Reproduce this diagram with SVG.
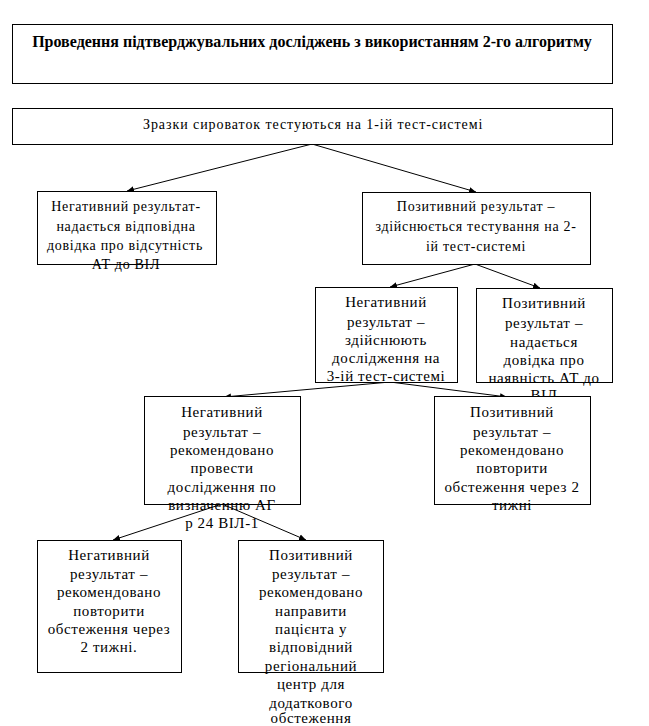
<svg xmlns="http://www.w3.org/2000/svg" width="649" height="726" viewBox="0 0 649 726">
<style>
rect{fill:#fff;stroke:#000;stroke-width:1}
text{font-family:"Liberation Serif","Times New Roman",serif;fill:#000;text-anchor:middle}
.t{font-size:16px;font-weight:bold}
.s{font-size:14px;letter-spacing:0.7px}
.m{font-size:15px;letter-spacing:0.6px}
.c line{stroke:#000;stroke-width:1;marker-end:url(#ah)}
</style>
<defs>
<marker id="ah" markerUnits="userSpaceOnUse" markerWidth="8" markerHeight="8" viewBox="0 0 8 8" refX="7" refY="4" orient="auto">
<path d="M0,1 L7,4 L0,7 Z" fill="#000"/>
</marker>
</defs>
<rect width="649" height="726" style="stroke:none"/>
<g id="connectors" class="c">
<line x1="312" y1="144" x2="127" y2="191"/>
<line x1="312" y1="144" x2="476" y2="192"/>
<line x1="475" y1="264" x2="390" y2="287"/>
<line x1="475" y1="264" x2="540" y2="288"/>
<line x1="390" y1="382" x2="224" y2="397"/>
<line x1="390" y1="382" x2="507" y2="397"/>
<line x1="222" y1="504" x2="113" y2="540"/>
<line x1="222" y1="504" x2="306" y2="540"/>
</g>
<g id="title">
<rect x="12.5" y="24.5" width="600" height="59"/>
<text class="t" x="312" y="47">Проведення підтверджувальних досліджень з використанням 2-го алгоритму</text>
</g>
<g id="start">
<rect x="12.5" y="108.5" width="600" height="36"/>
<text class="s" x="313" y="129" textLength="340" lengthAdjust="spacing">Зразки сироваток тестуються на 1-ій тест-системі</text>
</g>
<g id="neg1">
<rect x="37.5" y="191.5" width="179" height="73"/>
<text class="s" x="126" y="211">Негативний результат-</text>
<text class="s" x="126" y="231">надається відповідна</text>
<text class="s" x="125" y="250">довідка про відсутність</text>
<text class="s" x="126" y="269">АТ до ВІЛ</text>
</g>
<g id="pos1">
<rect x="362.5" y="192.5" width="228" height="72"/>
<text class="s" x="476" y="211">Позитивний результат –</text>
<text class="s" x="476" y="231">здійснюється тестування на 2-</text>
<text class="s" x="476" y="251">ій тест-системі</text>
</g>
<g id="neg2">
<rect x="315.5" y="287.5" width="142" height="95"/>
<text class="m" x="386" y="307">Негативний</text>
<text class="m" x="386" y="327">результат –</text>
<text class="m" x="386" y="345">здійснюють</text>
<text class="m" x="386" y="363">дослідження на</text>
<text class="m" x="386" y="381">3-ій тест-системі</text>
</g>
<g id="pos2">
<rect x="476.5" y="288.5" width="136" height="94"/>
<text class="m" x="544" y="308">Позитивний</text>
<text class="m" x="544" y="328">результат –</text>
<text class="m" x="544" y="347">надається</text>
<text class="m" x="544" y="365">довідка про</text>
<text class="m" x="544" y="383">наявність АТ до</text>
<text class="m" x="544" y="400">ВІЛ</text>
</g>
<g id="neg3">
<rect x="144.5" y="396.5" width="156" height="108"/>
<text class="m" x="222" y="417">Негативний</text>
<text class="m" x="222" y="437">результат –</text>
<text class="m" x="222" y="455">рекомендовано</text>
<text class="m" x="222" y="473">провести</text>
<text class="m" x="222" y="492">дослідження по</text>
<text class="m" x="222" y="510">визначенню АГ</text>
<text class="m" x="222" y="528">р 24 ВІЛ-1</text>
</g>
<g id="pos3">
<rect x="434.5" y="396.5" width="156" height="108"/>
<text class="m" x="512" y="417">Позитивний</text>
<text class="m" x="512" y="437">результат –</text>
<text class="m" x="512" y="455">рекомендовано</text>
<text class="m" x="512" y="473">повторити</text>
<text class="m" x="512" y="492">обстеження через 2</text>
<text class="m" x="512" y="510">тижні</text>
</g>
<g id="neg4">
<rect x="37.5" y="540.5" width="144" height="132"/>
<text class="m" x="109" y="560">Негативний</text>
<text class="m" x="109" y="579">результат –</text>
<text class="m" x="109" y="597">рекомендовано</text>
<text class="m" x="109" y="616">повторити</text>
<text class="m" x="109" y="634">обстеження через</text>
<text class="m" x="109" y="652">2 тижні.</text>
</g>
<g id="pos4">
<rect x="238.5" y="540.5" width="145" height="132"/>
<text class="m" x="311" y="560">Позитивний</text>
<text class="m" x="311" y="579">результат –</text>
<text class="m" x="311" y="597">рекомендовано</text>
<text class="m" x="311" y="616">направити</text>
<text class="m" x="311" y="634">пацієнта у</text>
<text class="m" x="311" y="652">відповідний</text>
<text class="m" x="311" y="671">регіональний</text>
<text class="m" x="311" y="689">центр для</text>
<text class="m" x="311" y="708">додаткового</text>
<text class="m" x="311" y="723">обстеження</text>
</g>
</svg>
